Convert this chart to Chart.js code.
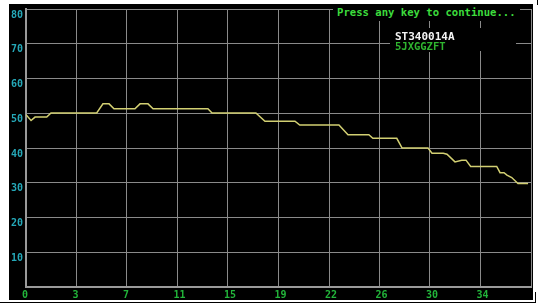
<!DOCTYPE html>
<html>
<head>
<meta charset="utf-8">
<script src="https://cdn.jsdelivr.net/npm/chart.js@4/dist/chart.umd.min.js"></script>
<style>
  html, body { margin: 0; padding: 0; background: #ffffff; width: 543px; height: 305px; overflow: hidden; }
  #panel { position: absolute; left: 9px; top: 4px; width: 524px; height: 296px; background: #000; }
  #wrap { position: absolute; left: 0; top: 0; width: 543px; height: 305px; }
  .txt { position: absolute; font-family: "DejaVu Sans Mono", monospace; font-weight: bold; white-space: nowrap; background: #000; line-height: 1; }
  .line { position: absolute; background: #000; }
</style>
</head>
<body>
<div id="panel"></div>
<div id="wrap"><canvas id="c" width="543" height="305"></canvas></div>
<div class="txt" style="left:333px;top:5px;padding:2px 4px 3px 4px;font-size:10.6px;color:#3ddc3d;">Press any key to continue...</div>
<div class="txt" style="left:390px;top:28px;width:126px;height:23px;"></div>
<div class="txt" style="left:395px;top:31px;font-size:11px;color:#f4f4f4;">ST340014A</div>
<div class="txt" style="left:395px;top:41px;font-size:10.5px;color:#2fb52f;">5JXGGZFT</div>
<div class="line" style="left:0;top:302px;width:536px;height:1px;"></div>
<div class="line" style="left:535px;top:292px;width:1px;height:11px;"></div>
<div class="line" style="left:537px;top:0;width:1px;height:5px;"></div>
<script>
// Position on disk (GB) and transfer rate (MB/s)
const positionsGB = [0, 0.38, 0.68, 1.56, 1.88, 5.32, 5.79, 6.25, 6.62, 8.2, 8.58, 9.18, 9.56,
  13.69, 14.0, 17.3, 17.98, 20.24, 20.6, 23.55, 24.23, 25.8, 26.1, 27.9, 28.3, 30.25, 30.55,
  31.4, 31.68, 32.28, 32.79, 33.11, 33.46, 35.42, 35.67, 35.97, 36.19, 36.55, 37.02, 37.78];
const speeds = [49.6, 47.9, 48.9, 48.9, 50.1, 50.1, 52.7, 52.7, 51.3, 51.3, 52.7, 52.7, 51.3,
  51.3, 50.1, 50.1, 47.7, 47.7, 46.6, 46.6, 43.8, 43.8, 42.8, 42.8, 40.0, 40.0, 38.5,
  38.5, 38.2, 36.0, 36.5, 36.5, 34.7, 34.7, 32.9, 32.9, 32.2, 31.5, 29.8, 29.8];
const xTickLabels = ['0', '3', '7', '11', '15', '19', '22', '26', '30', '34', ''];
const yTickLabels = ['', '10', '20', '30', '40', '50', '60', '70', '80'];
const xMax = 38;
const yMax = 80;

const points = positionsGB.map((p, i) => ({ x: p, y: speeds[i] }));

new Chart(document.getElementById('c'), {
  type: 'line',
  data: {
    datasets: [{
      data: points,
      borderColor: '#d2cf72',
      borderWidth: 1.5,
      pointRadius: 0,
      tension: 0,
      fill: false
    }]
  },
  options: {
    responsive: false,
    animation: false,
    events: [],
    layout: { padding: { left: 0, right: 12, top: 6, bottom: 0 } },
    plugins: { legend: { display: false }, tooltip: { enabled: false } },
    scales: {
      x: {
        type: 'linear',
        min: 0,
        max: xMax,
        afterFit: s => { s.height = 18; },
        afterBuildTicks: s => { s.ticks = xTickLabels.map((_, i) => ({ value: i * xMax / (xTickLabels.length - 1) })); },
        ticks: {
          autoSkip: false,
          maxRotation: 0,
          align: 'start',
          labelOffset: -4,
          padding: 2,
          color: '#22b43a',
          font: { family: 'DejaVu Sans Mono', size: 10, weight: 'bold' },
          callback: (v, i) => xTickLabels[i]
        },
        grid: { color: '#8a8a8a', lineWidth: 1, drawTicks: false },
        border: { display: true, color: '#9a9a9a', width: 2 }
      },
      y: {
        min: 0,
        max: yMax,
        afterFit: s => { s.width = 26; },
        afterBuildTicks: s => { s.ticks = yTickLabels.map((_, i) => ({ value: i * 10 })); },
        ticks: {
          autoSkip: false,
          labelOffset: 6,
          padding: 3,
          color: '#25a8b8',
          font: { family: 'DejaVu Sans Mono', size: 10, weight: 'bold' },
          callback: (v, i) => yTickLabels[i]
        },
        grid: { color: '#8a8a8a', lineWidth: 1, drawTicks: false },
        border: { display: true, color: '#9a9a9a', width: 2 }
      }
    }
  }
});
</script>
</body>
</html>
